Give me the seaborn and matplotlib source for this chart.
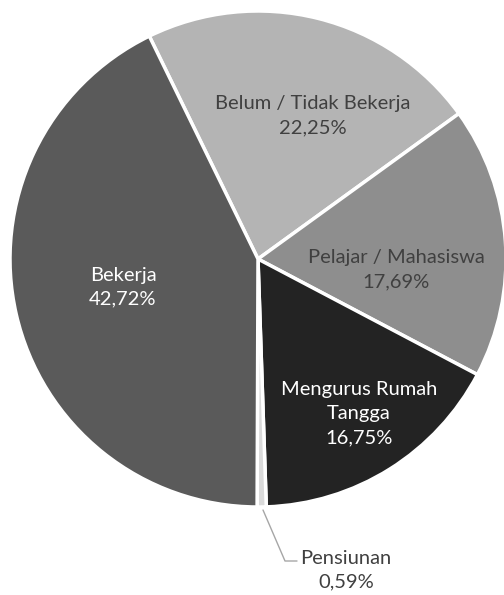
import matplotlib
matplotlib.use("Agg")
import matplotlib.pyplot as plt
import seaborn as sns

sns.set_theme(style="white")
plt.rcParams['font.family'] = ['Lato', 'DejaVu Sans']

categories = ["Belum / Tidak Bekerja", "Pelajar / Mahasiswa", "Mengurus Rumah\nTangga", "Pensiunan", "Bekerja"]
values = [22.25, 17.69, 16.75, 0.59, 42.72]
value_labels = ["22,25%", "17,69%", "16,75%", "0,59%", "42,72%"]
colors = ["#b4b4b4", "#8e8e8e", "#232323", "#dadada", "#5a5a5a"]
text_colors = ["#404040", "#404040", "#ffffff", "#404040", "#ffffff"]

W, H = 504, 595
cx, cy, R = 258, 259, 248

fig = plt.figure(figsize=(W / 100, H / 100), dpi=100)
fig.patch.set_facecolor("white")
ax = fig.add_axes([(cx - R) / W, (H - cy - R) / H, 2 * R / W, 2 * R / H])

wedges, _ = ax.pie(values, colors=colors, startangle=116, counterclock=False,
                   wedgeprops=dict(edgecolor="white", linewidth=2.5), frame=False)
ax.set_xlim(-1, 1)
ax.set_ylim(-1, 1)
ax.set_aspect("equal")
ax.axis("off")

def px(x, y):
    return ((x - cx) / R, (cy - y) / R)

label_pos = [px(313, 116), px(396, 270), px(359, 414), px(346, 570), px(123, 287)]

for i, (cat, val) in enumerate(zip(categories, value_labels)):
    x, y = label_pos[i]
    ax.text(x, y, f"{cat}\n{val}", ha="center", va="center", fontsize=14.5,
            color=text_colors[i], linespacing=1.5, clip_on=False)

# leader line for Pensiunan
p0 = px(263, 510)
p1 = px(285, 561)
p2 = px(297, 561)
ax.plot([p0[0], p1[0], p2[0]], [p0[1], p1[1], p2[1]], color="#a6a6a6", lw=1, clip_on=False)

fig.savefig("out.png", dpi=100)
